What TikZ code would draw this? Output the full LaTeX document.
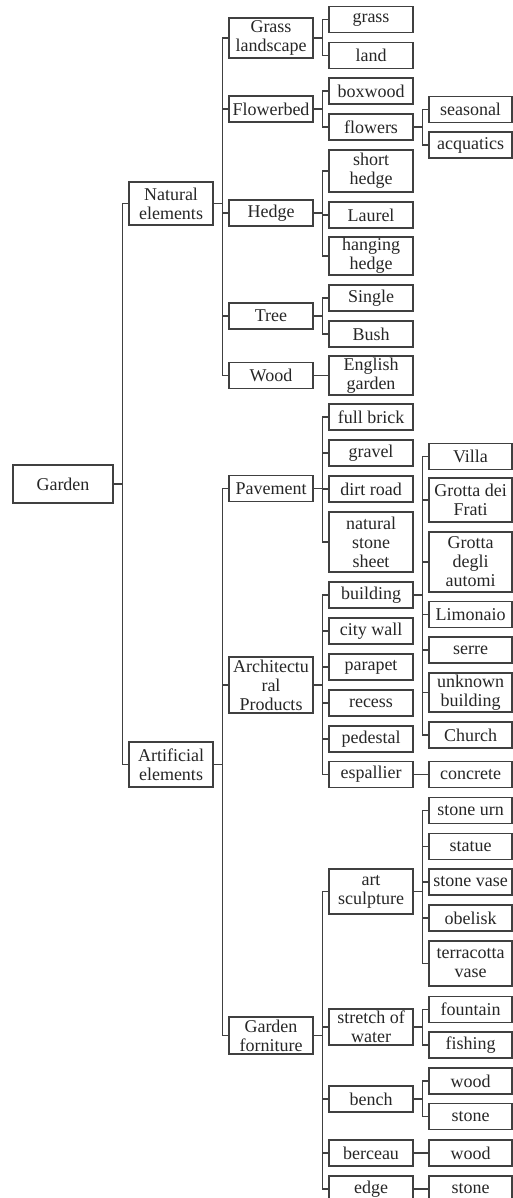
\documentclass[tikz,border=0pt]{standalone}
\usepackage{fontspec}
\setmainfont{Liberation Serif}

\begin{document}
\begin{tikzpicture}[x=1pt,y=-1pt,line width=1.2pt,
    box/.style={draw=black!75,inner sep=0pt,align=center,minimum width=84pt,minimum height=26pt,text=black!85,font=\fontsize{18}{19}\selectfont},
    leaf/.style={box,minimum width=83pt},
    line/.style={draw=black!75},
    elbow/.style={to path={-- ++(9,0) |- (\tikztotarget)}}]
                \useasboundingbox (0,0) rectangle (513,1198);
                % root and first level
                \node[box,minimum width=100pt,minimum height=38pt](g)at(63, 484){Garden};
                \node[box,minimum height=43pt](ne)at(171, 203.5){Natural\\elements};
                \node[box,minimum height=45pt](ae)at(171, 764.5){Artificial\\elements};
                % natural elements
                \node[box,minimum height=40pt](gl)at(271, 38){Grass\\landscape};
                \node[box](fb)at(271, 109){Flowerbed};
                \node[box](he)at(271, 213){Hedge};
                \node[box](tr)at(271, 316){Tree};
                \node[box](wo)at(271, 375.5){Wood};
                \node[box](gr)at(371, 19.5){grass};
                \node[box](la)at(371, 55.5){land};
                \node[box](bw)at(371, 91){boxwood};
                \node[box](fl)at(371, 127){flowers};
                \node[leaf](se)at(470.5, 109.5){seasonal};
                \node[leaf](aq)at(470.5, 145){acquatics};
                \node[box,minimum height=42pt](sh)at(371, 171){short\\hedge};
                \node[box](lr)at(371, 215){Laurel};
                \node[box,minimum height=38pt](hh)at(371, 256){hanging\\hedge};
                \node[box](si)at(371, 298){Single};
                \node[box](bu)at(371, 334){Bush};
                \node[box,minimum height=39pt](eg)at(371, 375.5){English\\garden};
                % artificial elements
                \node[box](pa)at(271, 488.5){Pavement};
                \node[box,minimum height=56pt](ap)at(271, 685){Architectu\\ral\\Products};
                \node[box,minimum height=37pt](gf)at(271, 1035.5){Garden\\forniture};
                \node[box](fbr)at(371, 417){full brick};
                \node[box](gv)at(371, 453){gravel};
                \node[box](dr)at(371, 489){dirt road};
                \node[box,minimum height=60pt](ns)at(371, 542){natural\\stone\\sheet};
                \node[box](bd)at(371, 595){building};
                \node[box](cw)at(371, 631){city wall};
                \node[box](pp)at(371, 667){parapet};
                \node[box](rc)at(371, 703){recess};
                \node[box](pd)at(371, 739){pedestal};
                \node[box](es)at(371, 774.5){espallier};
                \node[leaf](vi)at(470.5, 456.5){Villa};
                \node[leaf,minimum height=44pt](gdf)at(470.5, 500){Grotta dei\\Frati};
                \node[leaf,minimum height=60pt](gda)at(470.5, 562){Grotta\\degli\\automi};
                \node[leaf](li)at(470.5, 614.5){Limonaio};
                \node[leaf](sr)at(470.5, 650){serre};
                \node[leaf,minimum height=39pt](ub)at(470.5, 692.5){unknown\\building};
                \node[leaf](ch)at(470.5, 735){Church};
                \node[leaf](co)at(470.5, 774.5){concrete};
                \node[box,minimum height=45pt](as)at(371, 891.5){art\\sculpture};
                \node[box,minimum height=36pt](sw)at(371, 1027){stretch of\\water};
                \node[box](bn)at(371, 1099){bench};
                \node[box](bc)at(371, 1153){berceau};
                \node[box](ed)at(371, 1189){edge};
                \node[leaf](su)at(470.5, 810.5){stone urn};
                \node[leaf](st)at(470.5, 846.5){statue};
                \node[leaf](sv)at(470.5, 882){stone vase};
                \node[leaf](ob)at(470.5, 918){obelisk};
                \node[leaf,minimum height=45pt](tv)at(470.5, 963.5){terracotta\\vase};
                \node[leaf](fo)at(470.5, 1009.5){fountain};
                \node[leaf](fi)at(470.5, 1045){fishing};
                \node[leaf](w1)at(470.5, 1081){wood};
                \node[leaf](s1)at(470.5, 1116.5){stone};
                \node[leaf](w2)at(470.5, 1153){wood};
                \node[leaf](s2)at(470.5, 1189){stone};
                \path[line](g.east) edge[elbow] (ne.west)
                (g.east) edge[elbow] (ae.west)
                (ne.east) edge[elbow] (gl.west)
                (ne.east) edge[elbow] (fb.west)
                (ne.east) edge[elbow] (he.west)
                (ne.east) edge[elbow] (tr.west)
                (ne.east) edge[elbow] (wo.west)
                (gl.east) edge[elbow] (gr.west)
                (gl.east) edge[elbow] (la.west)
                (fb.east) edge[elbow] (bw.west)
                (fb.east) edge[elbow] (fl.west)
                (fl.east) edge[elbow] (se.west)
                (fl.east) edge[elbow] (aq.west)
                (he.east) edge[elbow] (sh.west)
                (he.east) edge[elbow] (lr.west)
                (he.east) edge[elbow] (hh.west)
                (tr.east) edge[elbow] (si.west)
                (tr.east) edge[elbow] (bu.west)
                (wo.east) edge[elbow] (eg.west)
                (ae.east) edge[elbow] (pa.west)
                (ae.east) edge[elbow] (ap.west)
                (ae.east) edge[elbow] (gf.west)
                (pa.east) edge[elbow] (fbr.west)
                (pa.east) edge[elbow] (gv.west)
                (pa.east) edge[elbow] (dr.west)
                (pa.east) edge[elbow] (ns.west)
                (ap.east) edge[elbow] (bd.west)
                (ap.east) edge[elbow] (cw.west)
                (ap.east) edge[elbow] (pp.west)
                (ap.east) edge[elbow] (rc.west)
                (ap.east) edge[elbow] (pd.west)
                (ap.east) edge[elbow] (es.west)
                (bd.east) edge[elbow] (vi.west)
                (bd.east) edge[elbow] (gdf.west)
                (bd.east) edge[elbow] (gda.west)
                (bd.east) edge[elbow] (li.west)
                (bd.east) edge[elbow] (sr.west)
                (bd.east) edge[elbow] (ub.west)
                (bd.east) edge[elbow] (ch.west)
                (es.east) edge[elbow] (co.west)
                (gf.east) edge[elbow] (as.west)
                (gf.east) edge[elbow] (sw.west)
                (gf.east) edge[elbow] (bn.west)
                (gf.east) edge[elbow] (bc.west)
                (gf.east) edge[elbow] (ed.west)
                (as.east) edge[elbow] (su.west)
                (as.east) edge[elbow] (st.west)
                (as.east) edge[elbow] (sv.west)
                (as.east) edge[elbow] (ob.west)
                (as.east) edge[elbow] (tv.west)
                (sw.east) edge[elbow] (fo.west)
                (sw.east) edge[elbow] (fi.west)
                (bn.east) edge[elbow] (w1.west)
                (bn.east) edge[elbow] (s1.west)
                (bc.east) edge[elbow] (w2.west)
                (ed.east) edge[elbow] (s2.west);
            \end{tikzpicture}
\end{document}
